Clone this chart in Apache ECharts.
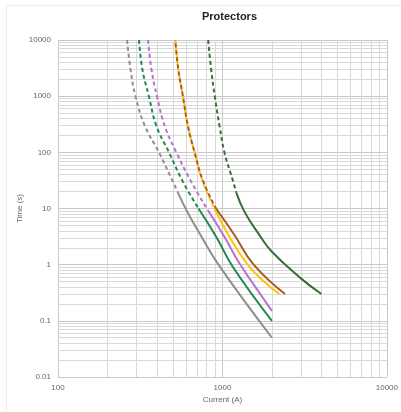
<!DOCTYPE html>
<html>
<head>
<meta charset="utf-8">
<script src="https://cdn.jsdelivr.net/npm/echarts@6/dist/echarts.min.js"></script>
<style>
html,body{margin:0;padding:0;background:#fff;}
#card{position:absolute;left:6px;top:5px;width:420px;height:430px;border:1px solid #eeeeee;box-sizing:border-box;}
#chart{position:absolute;left:0;top:0;width:401px;height:412px;}
</style>
</head>
<body>
<div id="card"></div>
<div id="chart"></div>
<script>
const chartTitle = 'Protectors';
const xName = 'Current (A)';
const yName = 'Time (s)';
const xRange = [100, 10000];
const yRange = [0.01, 10000];
const minorMultipliers = [2, 3, 4, 5, 6, 7, 8, 9];
const xDecades = [100, 1000];
const yDecades = [0.01, 0.1, 1, 10, 100, 1000];

// [current A, time s]
const greyDash = [[263,10000],[276,3000],[296,1000],[337,300],[411,100],[500,30],[533,20]];
const greySolid = [[533,20],[603,9.4],[708,4.1],[946,1],[2000,0.05]];
const greenDash = [[311,10000],[326,3000],[357,1000],[396,300],[473,100],[575,30],[715,10]];
const greenSolid = [[715,10],[916,3.15],[1155,0.92],[2000,0.1]];
const purpleDash = [[353,10000],[370,3000],[400,1000],[445,300],[524,100],[646,30],[814,9.4]];
const purpleSolid = [[814,9.4],[1028,3.15],[1268,1.06],[1799,0.235],[2000,0.15]];
const orangeDash = [[517,10000],[539,3000],[575,1000],[616,300],[677,100],[760,30],[895,10]];
const orangeSolid = [[895,10],[1102,3.15],[1423,1],[1755,0.53],[2215,0.3]];
const brownDash = [[517,10000],[539,3000],[575,1000],[616,300],[677,100],[765,30],[915,10]];
const brownSolid = [[915,10],[1183,3.38],[1548,1],[2400,0.3]];
const dkgreenDash = [[819,10000],[854,3000],[898,1000],[959,300],[1028,100],[1155,32],[1216,19]];
const dkgreenSolid = [[1216,19],[1360,8.8],[1675,3.4],[2000,1.7],[3000,0.57],[4000,0.3]];

const colors = {grey:'#8f8f8f', green:'#1f8a4d', purple:'#b574cc', orange:'#ffc20e', brown:'#a65a24', dkgreen:'#3b6b37'};

function minorValues(decades){
  const out = [];
  decades.forEach(d => minorMultipliers.forEach(m => out.push(+(d*m).toPrecision(6))));
  return out;
}
const xMinor = minorValues(xDecades);
const yMinor = minorValues(yDecades);

function line(name, data, color, dashed, offset){
  return {
    name, type:'line', data, smooth:0.45, symbol:'none', z:10,
    lineStyle:{color, width:2, type: dashed ? [4,3] : 'solid', dashOffset: offset||0, cap:'butt'},
    animation:false, silent:true
  };
}

const chart = echarts.init(document.getElementById('chart'), null, {renderer:'canvas'});
const fmt = v => String(+(+v).toPrecision(6));
const labelFont = {fontFamily:'Liberation Sans, Arial, sans-serif', fontSize:8, color:'#666'};

chart.setOption({
  animation:false,
  title:{text:chartTitle, left:197, top:6, textStyle:{fontFamily:'Liberation Sans, Arial, sans-serif', fontSize:11, fontWeight:'bold', color:'#222'}},
  grid:{left:58, right:13, top:40, bottom:35, containLabel:false},
  xAxis:{type:'log', logBase:10, min:xRange[0], max:xRange[1],
    name:xName, nameLocation:'middle', nameGap:19, nameMoveOverlap:false,
    nameTextStyle:labelFont,
    axisLine:{show:false}, axisTick:{show:false},
    axisLabel:Object.assign({margin:7, formatter:fmt}, labelFont),
    splitLine:{show:true, lineStyle:{color:'#c8c8c8', width:1}}
  },
  yAxis:{type:'log', logBase:10, min:yRange[0], max:yRange[1],
    name:yName, nameLocation:'middle', nameGap:34, nameMoveOverlap:false,
    nameTextStyle:labelFont,
    axisLine:{show:false}, axisTick:{show:false},
    axisLabel:Object.assign({margin:7, formatter:fmt}, labelFont),
    splitLine:{show:true, lineStyle:{color:'#c8c8c8', width:1}}
  },
  series:[
    {type:'line', data:[], silent:true, z:0, animation:false,
      markLine:{silent:true, z:0, symbol:['none','none'], label:{show:false}, animation:false,
        lineStyle:{color:'#d9d9d9', width:1, type:'solid'},
        emphasis:{disabled:true},
        data: xMinor.map(v => ({xAxis:v})).concat(yMinor.map(v => ({yAxis:v})))}
    },
    line('grey', greyDash, colors.grey, true),
    line('grey', greySolid, colors.grey, false),
    line('green', greenDash, colors.green, true),
    line('green', greenSolid, colors.green, false),
    line('purple', purpleDash, colors.purple, true),
    line('purple', purpleSolid, colors.purple, false),
    line('orange', orangeDash, colors.orange, true, 0),
    line('orange', orangeSolid, colors.orange, false),
    line('brown', brownDash, colors.brown, true, 3.5),
    line('brown', brownSolid, colors.brown, false),
    line('dkgreen', dkgreenDash, colors.dkgreen, true),
    line('dkgreen', dkgreenSolid, colors.dkgreen, false)
  ]
});
</script>
</body>
</html>
